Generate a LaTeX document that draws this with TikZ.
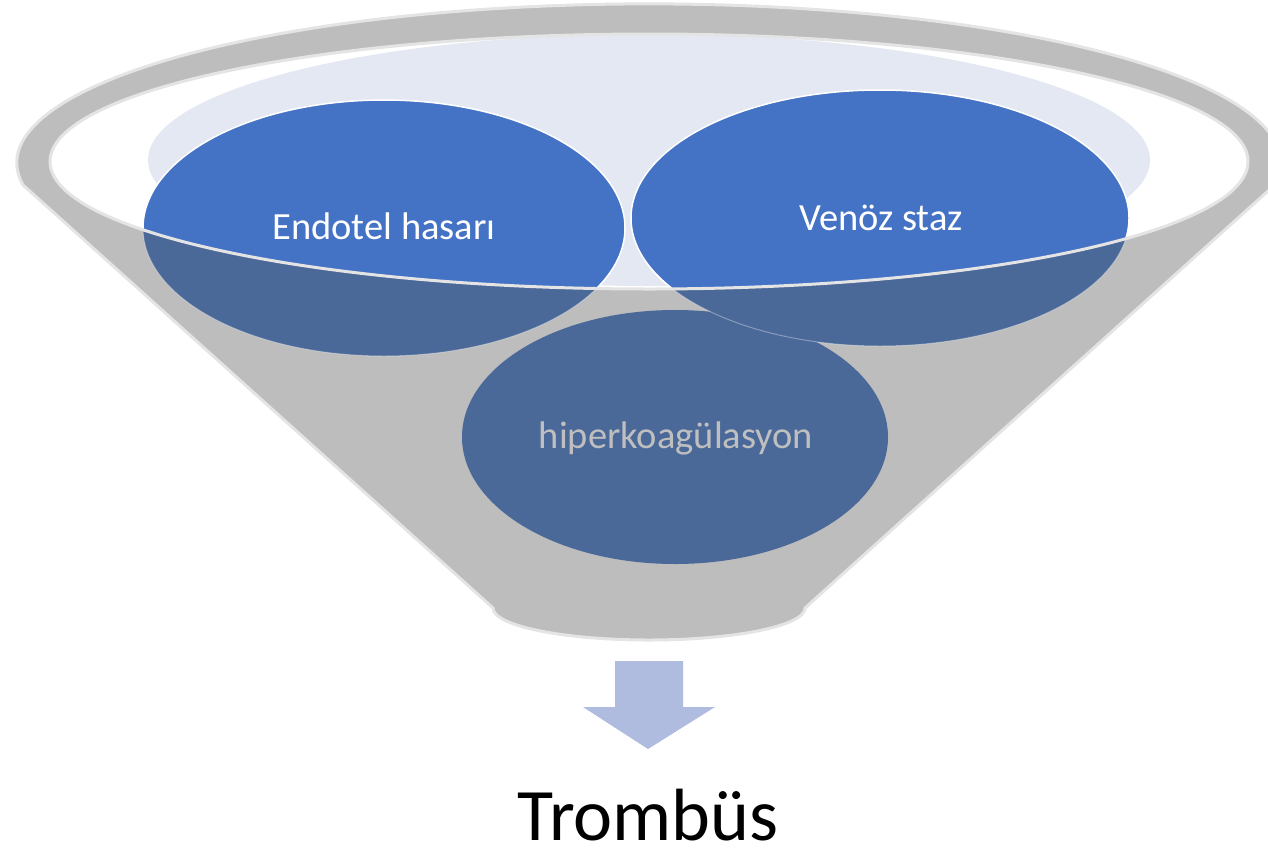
\documentclass[tikz,border=0pt]{standalone}
\usepackage{fontspec}
\setmainfont{Carlito}
\usepackage{tikz}
\definecolor{funnelgray}{HTML}{BDBDBD}
\definecolor{rimline}{HTML}{E4E4E4}
\definecolor{paleblue}{HTML}{E4E8F3}
\definecolor{brightblue}{HTML}{4472C4}
\definecolor{deepblue}{HTML}{4A6898}
\definecolor{arrowblue}{HTML}{B0BCDF}
\definecolor{softgray}{HTML}{BFBFBF}

\begin{document}
\begin{tikzpicture}[x=1pt, y=-1pt,
  lbl/.style={inner sep=0pt, anchor=base, font=\fontsize{38.5}{42}\selectfont, text=white},
  rimedge/.style={draw=rimline, line width=3pt},
  blob/.style={fill=#1, draw=white, line width=1.5pt},
]
  \useasboundingbox (0,0) rectangle (1268,849);

  % funnel body and outer rim
  \path[fill=funnelgray, rimedge] (493,608) -- (23,185)
    arc[start angle=172, end angle=368, x radius=632, y radius=159]
    -- (805,608) arc[start angle=0, end angle=180, x radius=156, y radius=32] -- cycle;

  % bowl
  \coordinate (bowlc) at (649,161.5);
  \fill[white] (bowlc) ellipse[x radius=599, y radius=127.5];
  \begin{scope}
    \clip (bowlc) ellipse[x radius=599, y radius=127.5];
    \fill[paleblue] (649,160) ellipse[x radius=501, y radius=126];
  \end{scope}

  % circles
  \fill[deepblue] (675,437) ellipse[x radius=213, y radius=127];
  \foreach \cx/\cy/\rx in {384/228/241, 880/218/249}
    \draw[blob=deepblue, draw opacity=0.35, line width=1pt] (\cx,\cy) ellipse[x radius=\rx, y radius=128];
  \begin{scope}
    \clip (bowlc) ellipse[x radius=599, y radius=127.5];
    \foreach \cx/\cy/\rx in {384/228/241, 880/218/249}
      \draw[blob=brightblue] (\cx,\cy) ellipse[x radius=\rx, y radius=128];
  \end{scope}
  \draw[rimedge] (bowlc) ellipse[x radius=599, y radius=127.5];

  % labels
  \node[lbl] (endo) at (384,239) {Endotel hasarı};
  \node[lbl] (venoz) at (881,230) {Venöz staz};
  \node[lbl, text=softgray] (hiper) at (676,448) {hiperkoagülasyon};

  % arrow and result
  \coordinate (tip) at (648,749);
  \fill[arrowblue] (615,661) -- (683,661) -- (683,707) -- (715,707) -- (tip)
    -- (583,707) -- (615,707) -- cycle;
  \node[inner sep=0pt, anchor=base, font=\fontsize{74}{80}\selectfont] (tromb) at (648,840) {Trombüs};
\end{tikzpicture}
\end{document}
